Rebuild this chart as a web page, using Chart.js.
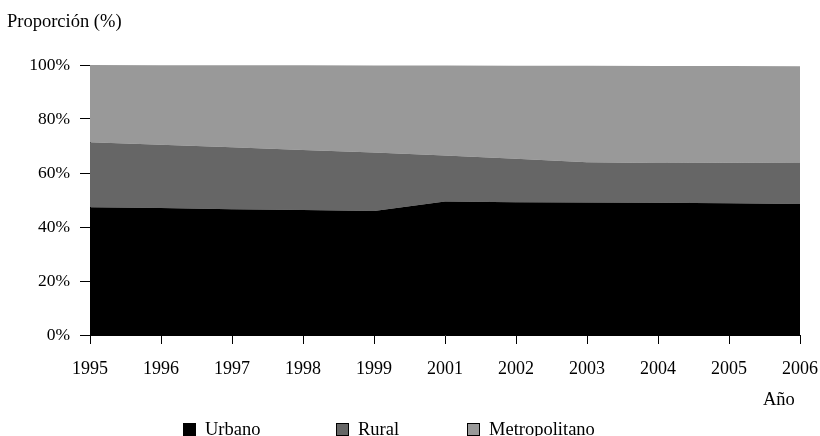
<!DOCTYPE html>
<html lang="es">
<head>
<meta charset="utf-8">
<title>Proporción por área</title>
<script src="https://cdn.jsdelivr.net/npm/chart.js@4/dist/chart.umd.min.js"></script>
<style>
  html, body { margin: 0; padding: 0; background: #fff; }
  #wrap { position: relative; width: 820px; height: 436px; font-family: 'Liberation Serif', 'Times New Roman', serif; color: #000; }
  #chart { position: absolute; left: 0; top: 0; }
  .label { position: absolute; font-size: 18.5px; white-space: nowrap; line-height: 1; }
  #y-title { left: 7px; top: 12px; }
  #x-title { left: 763px; top: 390px; }
  #legend { position: absolute; top: 420px; left: 0; width: 820px; height: 18px; }
  .legend-item { position: absolute; top: 0; display: flex; align-items: center; font-size: 18.5px; line-height: 1; }
  .legend-box { width: 11px; height: 11px; border: 1px solid #000; margin-right: 9px; }
</style>
</head>
<body>
<div id="wrap">
  <canvas id="chart" width="820" height="436"></canvas>
  <div class="label" id="y-title">Proporción (%)</div>
  <div class="label" id="x-title">Año</div>
  <div id="legend"></div>
</div>
<script>
const years = ['1995', '1996', '1997', '1998', '1999', '2001', '2002', '2003', '2004', '2005', '2006'];
const seriesNames = ['Urbano', 'Rural', 'Metropolitano'];
const seriesColors = ['#000000', '#666666', '#999999'];

const urbano = [47.3, 47.0, 46.6, 46.3, 45.9, 49.4, 49.2, 49.1, 49.0, 48.8, 48.5];
const rural = [24.1, 23.5, 22.9, 22.2, 21.7, 17.1, 16.1, 14.9, 14.7, 15.0, 15.4];
const metropolitano = [28.6, 29.4, 30.4, 31.4, 32.2, 33.3, 34.4, 35.7, 35.9, 35.8, 35.6];

const yTicks = [0, 20, 40, 60, 80, 100];

const legendLeft = [183, 336, 467];

const serif = "'Liberation Serif', 'Times New Roman', serif";

const seriesValues = [urbano, rural, metropolitano];

const datasets = seriesNames.map((name, index) => ({
  label: name,
  data: seriesValues[index],
  backgroundColor: seriesColors[index],
  borderColor: seriesColors[index],
  borderWidth: 0,
  pointRadius: 0,
  pointHoverRadius: 0,
  tension: 0,
  fill: index === 0 ? 'origin' : '-1',
}));

new Chart(document.getElementById('chart'), {
  type: 'line',
  data: { labels: years, datasets },
  options: {
    responsive: false,
    animation: false,
    layout: { padding: { top: 65, right: 20, left: 0, bottom: 0 } },
    plugins: {
      legend: { display: false },
      tooltip: { enabled: false },
    },
    scales: {
      x: {
        offset: false,
        afterFit(scale) {
          scale.height = 101;
          scale.paddingLeft = 0;
          scale.paddingRight = 0;
        },
        grid: {
          drawOnChartArea: false,
          drawTicks: true,
          tickLength: 9,
          color: '#000',
          offset: false,
        },
        border: { display: true, color: '#000', width: 1 },
        ticks: {
          color: '#000',
          font: { family: serif, size: 18 },
          padding: 14,
          maxRotation: 0,
          autoSkip: false,
        },
      },
      y: {
        stacked: true,
        min: 0,
        max: 100,
        afterFit(scale) {
          scale.width = 90;
          scale.paddingTop = 0;
          scale.paddingBottom = 0;
        },
        afterBuildTicks(scale) { scale.ticks = yTicks.map((value) => ({ value })); },
        grid: {
          drawOnChartArea: false,
          drawTicks: true,
          tickLength: 10,
          color: '#000',
        },
        border: { display: true, color: '#000', width: 1 },
        ticks: {
          color: '#000',
          font: { family: serif, size: 17.5 },
          padding: 10,
          callback: (value) => `${value}%`,
        },
      },
    },
  },
});

const legend = document.getElementById('legend');
seriesNames.forEach((name, index) => {
  const item = document.createElement('div');
  item.className = 'legend-item';
  item.style.left = `${legendLeft[index]}px`;
  const box = document.createElement('span');
  box.className = 'legend-box';
  box.style.background = seriesColors[index];
  const text = document.createElement('span');
  text.textContent = name;
  item.append(box, text);
  legend.append(item);
});
</script>
</body>
</html>
